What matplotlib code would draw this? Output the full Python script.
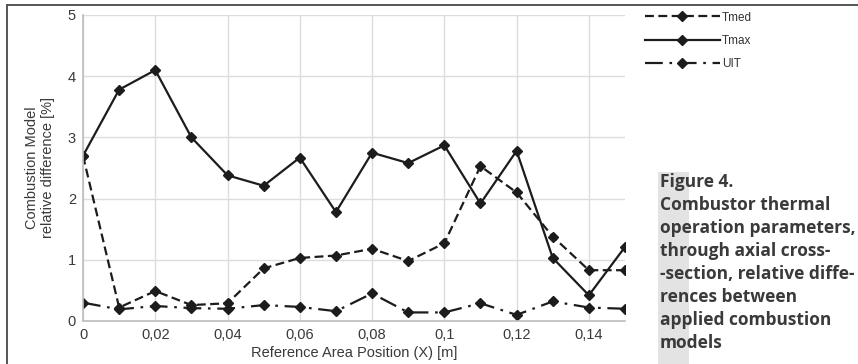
import matplotlib.pyplot as plt
from matplotlib.lines import Line2D
from matplotlib.patches import Rectangle

# values
x_pos = [0, 0.01, 0.02, 0.03, 0.04, 0.05, 0.06, 0.07, 0.08, 0.09, 0.10, 0.11, 0.12, 0.13, 0.14, 0.15]
tmed = [2.70, 0.22, 0.49, 0.26, 0.29, 0.86, 1.03, 1.07, 1.18, 0.98, 1.27, 2.53, 2.10, 1.38, 0.83, 0.83]
tmax = [2.70, 3.78, 4.10, 3.00, 2.38, 2.21, 2.67, 1.78, 2.75, 2.58, 2.87, 1.92, 2.78, 1.03, 0.42, 1.21]
uit = [0.30, 0.19, 0.245, 0.21, 0.20, 0.26, 0.23, 0.16, 0.45, 0.14, 0.14, 0.29, 0.10, 0.32, 0.22, 0.20]

x_ticks = [0, 0.02, 0.04, 0.06, 0.08, 0.10, 0.12, 0.14]
x_tick_labels = ["0", "0,02", "0,04", "0,06", "0,08", "0,1", "0,12", "0,14"]
y_ticks = [0, 1, 2, 3, 4, 5]

caption_lines = ["Figure 4.", "Combustor thermal", "operation parameters,", "through axial cross-",
                 "-section, relative diffe-", "rences between", "applied combustion", "models"]

W, H, dpi = 858, 364, 100
fig = plt.figure(figsize=(W / dpi, H / dpi), dpi=dpi)
plt.rcParams['font.family'] = ['Liberation Sans', 'DejaVu Sans']

ax = fig.add_axes([83 / W, 1 - 321 / H, (625 - 83) / W, (321 - 15) / H])

line_col = '#1c1c1c'
ax.plot(x_pos, tmed, color=line_col, lw=1.6, dashes=(4, 2), marker='D', ms=5.5, label='Tmed')
ax.plot(x_pos, tmax, color=line_col, lw=1.6, marker='D', ms=5.5, label='Tmax')
ax.plot(x_pos, uit, color=line_col, lw=1.6, dashes=(8, 3, 1.2, 3), marker='D', ms=5.5, label='UIT')

ax.set_xlim(0, 0.15)
ax.set_ylim(0, 5)
ax.set_xticks(x_ticks)
ax.set_xticklabels(x_tick_labels)
ax.set_yticks(y_ticks)
ax.grid(True, color='#dcdcdc', lw=1.0)
ax.set_axisbelow(True)
for side in ['top', 'right']:
    ax.spines[side].set_visible(False)
for side in ['left', 'bottom']:
    ax.spines[side].set_color('#bdbdbd')
    ax.spines[side].set_linewidth(1.2)
ax.tick_params(length=0, labelsize=10.5, colors='#3a3a3a', pad=5)

ax.set_xlabel("Reference Area Position (X) [m]", fontsize=10.5, color='#3a3a3a', labelpad=3)
ax.set_ylabel("Combustion Model\nrelative difference [%]", fontsize=10.5, color='#3a3a3a', labelpad=9)

leg = ax.legend(loc='upper left', bbox_to_anchor=(634 / W, 1 - 1 / H), bbox_transform=fig.transFigure,
                frameon=False, handlelength=6.4, handletextpad=0.15, labelspacing=0.95,
                fontsize=8.5, numpoints=1)
for t in leg.get_texts():
    t.set_color('#333333')

# page frame lines
fig.add_artist(Line2D([7 / W, 7 / W], [0, 1 - 5 / H], color='#555555', lw=1.4))
fig.add_artist(Line2D([7 / W, 1], [1 - 5 / H, 1 - 5 / H], color='#555555', lw=1.4))

# grey band behind caption
fig.add_artist(Rectangle((658 / W, 0), 31 / W, (364 - 172) / H, transform=fig.transFigure,
                         facecolor='#e3e3e3', edgecolor='none', zorder=0))

for i, line in enumerate(caption_lines):
    fig.text(660 / W, 1 - (187 + 23.0 * i) / H, line, fontsize=12.5, fontweight='bold', color='#3a3a3a',
             family=['Open Sans', 'DejaVu Sans'], va='baseline', ha='left')

fig.savefig('out.png', dpi=dpi)
